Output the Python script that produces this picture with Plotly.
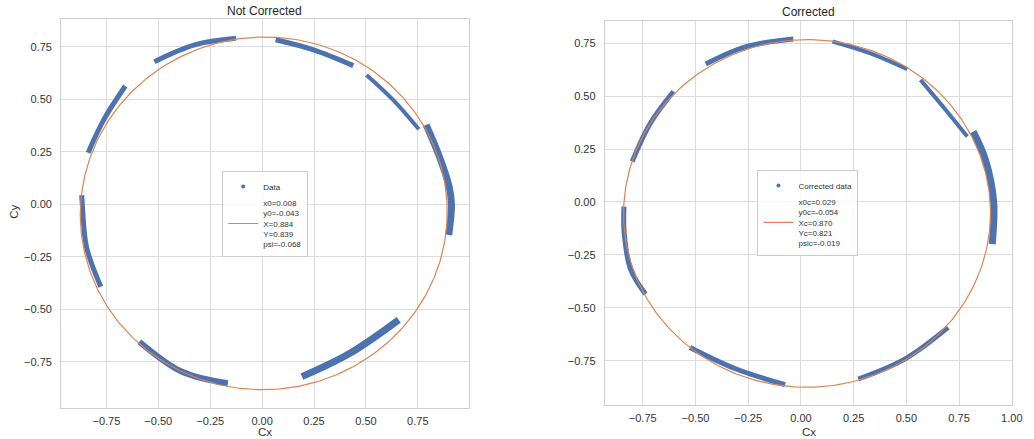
import numpy as np
import plotly.graph_objects as go

# ---------------- data ----------------
# Not Corrected: data arcs (each arc = list of points along the band)
nc_arc_x = [
    [-0.519, -0.325, -0.126],
    [0.065, 0.248, 0.439],
    [0.503, 0.631, 0.755],
    [0.790, 0.854, 0.901, 0.912, 0.899],
    [-0.838, -0.763, -0.659],
    [-0.869, -0.866, -0.846, -0.777],
    [-0.591, -0.388, -0.165],
    [0.192, 0.423, 0.658],
]
nc_arc_y = [
    [0.679, 0.759, 0.790],
    [0.783, 0.735, 0.660],
    [0.616, 0.497, 0.357],
    [0.378, 0.227, 0.084, 0.000, -0.146],
    [0.246, 0.402, 0.563],
    [0.044, 0.000, -0.202, -0.392],
    [-0.654, -0.796, -0.852],
    [-0.820, -0.709, -0.550],
]
# Corrected: data arcs
c_arc_x = [
    [-0.451, -0.260, -0.036],
    [0.150, 0.327, 0.504],
    [0.567, 0.680, 0.789],
    [0.817, 0.875, 0.914, 0.907],
    [-0.800, -0.714, -0.604],
    [-0.839, -0.838, -0.808, -0.737],
    [-0.526, -0.307, -0.075],
    [0.272, 0.492, 0.698],
]
c_arc_y = [
    [0.652, 0.734, 0.770],
    [0.758, 0.703, 0.627],
    [0.577, 0.443, 0.309],
    [0.332, 0.199, 0.000, -0.199],
    [0.191, 0.372, 0.522],
    [-0.022, -0.144, -0.317, -0.435],
    [-0.687, -0.789, -0.863],
    [-0.836, -0.742, -0.592],
]

# fitted ellipse parameters (from legends)
nc_fit = dict(x0=0.008, y0=-0.043, X=0.884, Y=0.839, psi=-0.068)
c_fit = dict(x0=0.029, y0=-0.054, X=0.870, Y=0.821, psi=-0.019)

tick_vals_x_left = [-0.75, -0.5, -0.25, 0.0, 0.25, 0.5, 0.75]
tick_vals_x_right = [-0.75, -0.5, -0.25, 0.0, 0.25, 0.5, 0.75, 1.0]
tick_vals_y = [-0.75, -0.5, -0.25, 0.0, 0.25, 0.5, 0.75]

# ---------------- styles ----------------
BLUE = "#4c72b0"
ORANGE = "#dd8452"
FONT = "Liberation Sans, Arial, sans-serif"
nc_widths = [5, 5, 4, 7, 5, 5, 6, 7]
c_widths = [5, 4, 4, 7, 5, 5, 5, 5]


def ellipse(p):
    t = np.linspace(0, 2 * np.pi, 400)
    a = -p["psi"]
    ex = p["x0"] + p["X"] * np.cos(t) * np.cos(a) - p["Y"] * np.sin(t) * np.sin(a)
    ey = p["y0"] + p["X"] * np.cos(t) * np.sin(a) + p["Y"] * np.sin(t) * np.cos(a)
    return ex, ey


fig = go.Figure()


def add_panel(xs, ys, widths, fit, xa, ya, legend, data_name, fit_name):
    for sx, sy, w in zip(xs, ys, widths):
        fig.add_trace(go.Scatter(x=sx, y=sy, mode="lines", line=dict(color=BLUE, width=w, shape="spline"),
                                 xaxis=xa, yaxis=ya, showlegend=False, hoverinfo="skip"))
    fig.add_trace(go.Scatter(x=[None], y=[None], mode="markers", marker=dict(color=BLUE, size=4),
                             name=data_name, xaxis=xa, yaxis=ya, legend=legend))
    ex, ey = ellipse(fit)
    fig.add_trace(go.Scatter(x=ex, y=ey, mode="lines", line=dict(color=ORANGE, width=1.2),
                             name=fit_name, xaxis=xa, yaxis=ya, legend=legend))


add_panel(nc_arc_x, nc_arc_y, nc_widths, nc_fit, "x", "y", "legend", "Data",
          "x0=%.3f<br>y0=%.3f<br>X=%.3f<br>Y=%.3f<br>psi=%.3f" % (nc_fit["x0"], nc_fit["y0"], nc_fit["X"], nc_fit["Y"], nc_fit["psi"]))
add_panel(c_arc_x, c_arc_y, c_widths, c_fit, "x2", "y2", "legend2", "Corrected data",
          "x0c=%.3f<br>y0c=%.3f<br>Xc=%.3f<br>Yc=%.3f<br>psic=%.3f" % (c_fit["x0"], c_fit["y0"], c_fit["X"], c_fit["Y"], c_fit["psi"]))

axis_common = dict(showgrid=True, gridcolor="#dddddd", gridwidth=1, zeroline=False,
                   showline=True, linecolor="#cfcfcf", linewidth=1, mirror=True,
                   ticks="", tickformat=".2f", tickfont=dict(size=11, color="#333333"))

legend_common = dict(font=dict(size=8, color="#333333", family=FONT), bgcolor="rgba(255,255,255,0.85)",
                     bordercolor="#cccccc", borderwidth=1, xanchor="center", yanchor="middle",
                     tracegroupgap=2, itemwidth=30)

title_font = dict(size=11.5, color="#333333")
fig.update_layout(
    width=1034, height=439, margin=dict(l=0, r=0, t=0, b=0),
    paper_bgcolor="white", plot_bgcolor="white",
    font=dict(family=FONT, color="#333333"),
    xaxis=dict(domain=[0.0597, 0.4577], range=[-0.968, 0.995], tickvals=tick_vals_x_left, anchor="y",
               ticklabelstandoff=3, **axis_common),
    yaxis=dict(domain=[0.0713, 0.9567], range=[-0.968, 0.882], tickvals=tick_vals_y, anchor="x",
               ticklabelstandoff=6, **axis_common),
    xaxis2=dict(domain=[0.5906, 0.9887], range=[-0.93, 1.003], tickvals=tick_vals_x_right, anchor="y2",
                ticklabelstandoff=3, **axis_common),
    yaxis2=dict(domain=[0.0774, 0.9522], range=[-0.959, 0.855], tickvals=tick_vals_y, anchor="x2",
                ticklabelstandoff=6, **axis_common),
    legend=dict(x=0.259, y=0.5125, **legend_common),
    legend2=dict(x=0.789, y=0.515, **legend_common),
    annotations=[
        dict(text="Not Corrected", x=0.2587, y=1 - 11 / 439, xref="paper", yref="paper",
             showarrow=False, font=dict(size=12, color="#262626"), xanchor="center", yanchor="middle"),
        dict(text="Corrected", x=0.7896, y=1 - 12 / 439, xref="paper", yref="paper",
             showarrow=False, font=dict(size=12, color="#262626"), xanchor="center", yanchor="middle"),
        dict(text="Cx", x=268 / 1034, y=0, xref="paper", yref="paper", borderpad=0,
             showarrow=False, font=title_font, xanchor="center", yanchor="bottom"),
        dict(text="Cx", x=816.5 / 1034, y=0, xref="paper", yref="paper", borderpad=0,
             showarrow=False, font=title_font, xanchor="center", yanchor="bottom"),
        dict(text="Cy", x=14 / 1034, y=1 - 212 / 439, xref="paper", yref="paper", textangle=-90,
             showarrow=False, font=title_font, xanchor="center", yanchor="middle"),
    ],
)

fig.write_html("out.html")
